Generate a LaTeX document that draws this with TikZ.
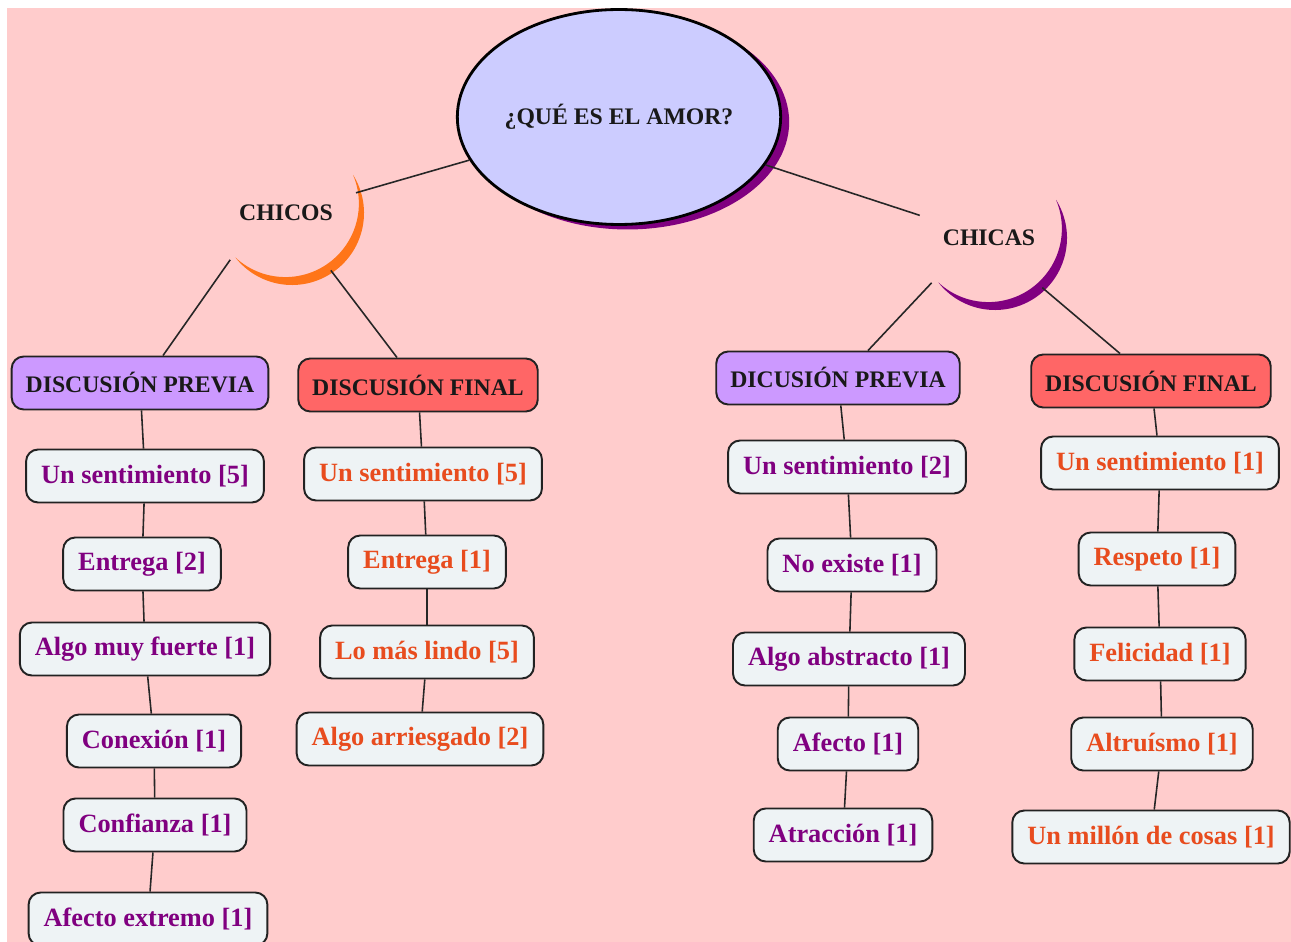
\documentclass[tikz,border=0pt]{standalone}
\usepackage{fontspec}
\setmainfont{Liberation Serif}
\usetikzlibrary{shapes.geometric,shadows}

\definecolor{fondo}{HTML}{FFCCCC}
\definecolor{lila}{HTML}{CCCCFF}
\definecolor{morado}{HTML}{800080}
\definecolor{naranja}{HTML}{FF7519}
\definecolor{rojizo}{HTML}{E84C1E}
\definecolor{cabmorado}{HTML}{CC99FF}
\definecolor{cabrojo}{HTML}{FF6666}
\definecolor{caja}{HTML}{EEF3F5}
\definecolor{borde}{HTML}{222222}

\begin{document}
\begin{tikzpicture}[x=0.02cm, y=0.02cm,
    cabeza/.style={draw=borde, line width=1.1pt, rounded corners=0.24cm, minimum height=1.06cm, inner xsep=0.28cm, font=\fontsize{13.5}{16}\selectfont\bfseries, text=black!90},
    cabp/.style={cabeza, fill=cabmorado},
    cabf/.style={cabeza, fill=cabrojo},
    item/.style={draw=borde, line width=1.1pt, rounded corners=0.24cm, fill=caja, minimum height=1.06cm, inner xsep=0.3cm, font=\fontsize{15}{18}\selectfont\bfseries},
    itp/.style={item, text=morado},
    itf/.style={item, text=rojizo},
    grupo/.style={circle, minimum size=2.9cm, inner sep=0pt, font=\fontsize{13.5}{16}\selectfont\bfseries, text=black!90},
    enlace/.style={line width=0.9pt, draw=black!85}]

    % 背景
    \fill[white] (0,0) rectangle (1291,-942);
    \fill[fondo] (7,-8) rectangle (1291,-942);
    \useasboundingbox (0,0) rectangle (1291,-942);

    % 中心椭圆
    \node[ellipse, draw=black, line width=1.6pt, fill=lila, inner sep=0pt, minimum width=6.44cm, minimum height=4.3cm,
          drop shadow={shadow xshift=0.17cm, shadow yshift=-0.1cm, fill=morado, opacity=1},
          font=\fontsize{13.5}{16}\selectfont\bfseries, text=black!90] (amor) at (619,-117) {¿QUÉ ES EL AMOR?};

    % 半月 CHICOS
    \begin{scope}[shift={(292,-213)}]
        \fill[naranja] (61.06,38.15) arc[start angle=32, end angle=-142, radius=72]
            arc[start angle=-133, end angle=23, radius=73.5] -- cycle;
    \end{scope}
    \node[grupo] (chicos) at (286,-213) {CHICOS};

    % 半月 CHICAS
    \begin{scope}[shift={(995,-238)}]
        \fill[morado] (61.06,38.15) arc[start angle=32, end angle=-142, radius=72]
            arc[start angle=-133, end angle=23, radius=73.5] -- cycle;
    \end{scope}
    \node[grupo] (chicas) at (989,-238) {CHICAS};

    % 标题框
    \node[cabp] (p1) at (140,-383) {DISCUSIÓN PREVIA};
    \node[cabf] (f1) at (418,-385) {DISCUSIÓN FINAL};
    \node[cabp] (p2) at (838,-378) {DICUSIÓN PREVIA};
    \node[cabf] (f2) at (1151,-381) {DISCUSIÓN FINAL};

    % 第一列
    \node[itp] (a1) at (145,-476) {Un sentimiento [5]};
    \node[itp] (a2) at (142,-564) {Entrega [2]};
    \node[itp] (a3) at (145,-649) {Algo muy fuerte [1]};
    \node[itp] (a4) at (154,-741) {Conexión [1]};
    \node[itp] (a5) at (155,-825) {Confianza [1]};
    \node[itp] (a6) at (148,-919) {Afecto extremo [1]};

    % 第二列
    \node[itf] (b1) at (423,-474) {Un sentimiento [5]};
    \node[itf] (b2) at (427,-562) {Entrega [1]};
    \node[itf] (b3) at (427,-652) {Lo más lindo [5]};
    \node[itf] (b4) at (420,-739) {Algo arriesgado [2]};

    % 第三列
    \node[itp] (c1) at (847,-467) {Un sentimiento [2]};
    \node[itp] (c2) at (852,-565) {No existe [1]};
    \node[itp] (c3) at (849,-659) {Algo abstracto [1]};
    \node[itp] (c4) at (848,-744) {Afecto [1]};
    \node[itp] (c5) at (843,-835) {Atracción [1]};

    % 第四列
    \node[itf] (d1) at (1160,-463) {Un sentimiento [1]};
    \node[itf] (d2) at (1157,-559) {Respeto [1]};
    \node[itf] (d3) at (1160,-654) {Felicidad [1]};
    \node[itf] (d4) at (1162,-744) {Altruísmo [1]};
    \node[itf] (d5) at (1151,-837) {Un millón de cosas [1]};

    % 连线
    \draw[enlace] (amor) -- (chicos);
    \draw[enlace] (amor) -- (chicas);
    \draw[enlace] (chicos.220) -- ([xshift=0.46cm]p1.north);
    \draw[enlace] (chicos.-52) -- ([xshift=-0.42cm]f1.north);
    \draw[enlace] (chicas.218) -- ([xshift=0.6cm]p2.north);
    \draw[enlace] (chicas.-43) -- ([xshift=-0.62cm]f2.north);
    \foreach \u/\v in {p1/a1,a1/a2,a2/a3,a3/a4,a4/a5,a5/a6,
                       f1/b1,b1/b2,b2/b3,b3/b4,
                       p2/c1,c1/c2,c2/c3,c3/c4,c4/c5,
                       f2/d1,d1/d2,d2/d3,d3/d4,d4/d5}
        \draw[enlace] (\u) -- (\v);
\end{tikzpicture}
\end{document}
